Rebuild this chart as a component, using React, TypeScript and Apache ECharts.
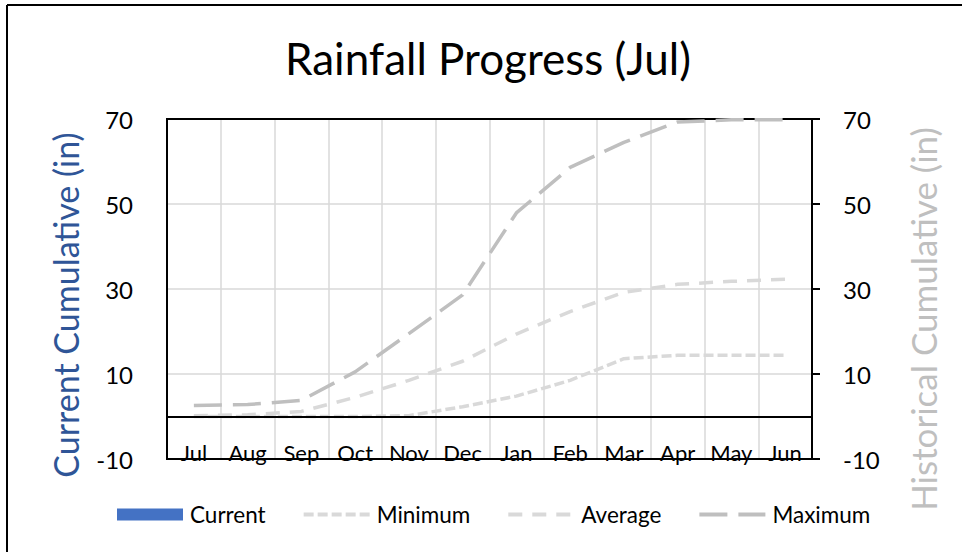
import React, { useEffect, useRef } from "react";
import * as echarts from "echarts";

const months = ["Jul", "Aug", "Sep", "Oct", "Nov", "Dec", "Jan", "Feb", "Mar", "Apr", "May", "Jun"];
const current: (number | null)[] = [null, null, null, null, null, null, null, null, null, null, null, null];
const minimum = [0, 0, 0, 0, 0.2, 2.3, 4.8, 8.5, 13.6, 14.4, 14.4, 14.4];
const average = [0.2, 0.4, 1.2, 4.5, 8.5, 13.0, 19.4, 24.7, 29.2, 31.1, 31.8, 32.3];
const maximum = [2.6, 2.8, 3.8, 10.5, 19.5, 28.6, 47.9, 58.6, 64.5, 69.3, 69.8, 69.8];
const yMin = -10;
const yMax = 70;
const yStep = 20;

const FONT = "Lato";

export default function App() {
  const ref = useRef<HTMLDivElement>(null);
  useEffect(() => {
    if (!ref.current) return;
    const chart = echarts.init(ref.current, undefined, { renderer: "svg" });
    const gray = "#D9D9D9";
    const hiddenSymbol = { color: "rgba(0,0,0,0)", opacity: 0, borderWidth: 0 };
    const yAxisBase = {
      type: "value",
      min: yMin,
      max: yMax,
      interval: yStep,
    };
    chart.setOption({
      animation: false,
      backgroundColor: "#fff",
      textStyle: { fontFamily: FONT },
      grid: {
        left: 167,
        right: 150,
        top: 119,
        bottom: 93,
        show: true,
        borderColor: "#000",
        borderWidth: 2,
        backgroundColor: "transparent",
      },
      graphic: [
        { type: "line", shape: { x1: 7, y1: 5, x2: 962, y2: 5 }, style: { stroke: "#000", lineWidth: 2 } },
        { type: "line", shape: { x1: 7, y1: 5, x2: 7, y2: 552 }, style: { stroke: "#000", lineWidth: 2 } },
        {
          type: "text",
          x: 488,
          y: 58,
          style: { text: "Rainfall Progress (Jul)", fontSize: 44, fontFamily: FONT, fill: "#000", align: "center", verticalAlign: "middle" },
        },
        {
          type: "text",
          x: 65,
          y: 305,
          rotation: Math.PI / 2,
          style: { text: "Current Cumulative (in)", fontSize: 34, fontFamily: FONT, fill: "#2F5597", align: "center", verticalAlign: "middle" },
        },
        {
          type: "text",
          x: 923,
          y: 319,
          rotation: Math.PI / 2,
          style: { text: "Historical Cumulative (in)", fontSize: 35, fontFamily: FONT, fill: "#BFBFBF", align: "center", verticalAlign: "middle" },
        },
      ],
      legend: {
        left: 117,
        top: 503,
        padding: 0,
        itemWidth: 66,
        itemHeight: 12,
        itemGap: 36,
        lineStyle: { width: 4 },
        textStyle: { fontSize: 22.5, fontFamily: FONT, color: "#000", padding: [0, 0, 0, 2] },
        data: [
          { name: "Current", icon: "rect" },
          { name: "Minimum", itemStyle: hiddenSymbol },
          { name: "Average", itemStyle: hiddenSymbol },
          { name: "Maximum", itemStyle: hiddenSymbol },
        ],
      },
      xAxis: [
        {
          type: "category",
          data: months,
          boundaryGap: true,
          axisLine: { onZero: false, lineStyle: { color: "#000", width: 2 } },
          axisTick: { show: false },
          axisLabel: { interval: 0, margin: -18, fontSize: 22, fontFamily: FONT, color: "#000" },
          splitLine: { show: true, interval: 0, lineStyle: { color: gray, width: 1.5 } },
        },
        {
          type: "category",
          data: months,
          position: "top",
          boundaryGap: true,
          axisLine: { show: true, onZero: false, lineStyle: { color: "#000", width: 2 } },
          axisTick: { show: false },
          axisLabel: { show: false },
          splitLine: { show: false },
        },
      ],
      yAxis: [
        {
          ...yAxisBase,
          position: "left",
          axisLine: { show: true, lineStyle: { color: "#000", width: 2 } },
          axisTick: { show: false },
          axisLabel: { margin: 34, fontSize: 24, fontFamily: FONT, color: "#000" },
          splitLine: { show: true, lineStyle: { color: gray, width: 1.5 } },
        },
        {
          ...yAxisBase,
          position: "right",
          axisLine: { show: true, lineStyle: { color: "#000", width: 2 } },
          axisTick: { show: true, inside: false, length: 8, lineStyle: { color: "#000", width: 2 } },
          axisLabel: { margin: 31, fontSize: 24, fontFamily: FONT, color: "#000" },
          splitLine: { show: false },
        },
      ],
      series: [
        {
          name: "Current",
          type: "line",
          data: current,
          yAxisIndex: 0,
          symbol: "none",
          z: 1,
          itemStyle: { color: "#4472C4" },
          lineStyle: { color: "#4472C4", width: 4 },
          markLine: {
            silent: true,
            symbol: ["none", "none"],
            label: { show: false },
            lineStyle: { color: "#000", width: 2, type: "solid" },
            data: [{ yAxis: 0 }],
          },
        },
        {
          name: "Minimum",
          type: "line",
          data: minimum,
          yAxisIndex: 1,
          symbol: "none",
          z: 3,
          itemStyle: { color: gray },
          lineStyle: { color: gray, width: 3.5, type: [10, 4] },
        },
        {
          name: "Average",
          type: "line",
          data: average,
          yAxisIndex: 1,
          symbol: "none",
          z: 3,
          itemStyle: { color: gray },
          lineStyle: { color: gray, width: 3.5, type: [14, 10] },
        },
        {
          name: "Maximum",
          type: "line",
          data: maximum,
          yAxisIndex: 1,
          symbol: "none",
          z: 3,
          itemStyle: { color: "#BFBFBF" },
          lineStyle: { color: "#BFBFBF", width: 3.5, type: [28, 11] },
        },
      ],
    });
    return () => chart.dispose();
  }, []);
  return <div ref={ref} style={{ position: "fixed", left: 0, top: 0, width: 962, height: 552 }} />;
}
